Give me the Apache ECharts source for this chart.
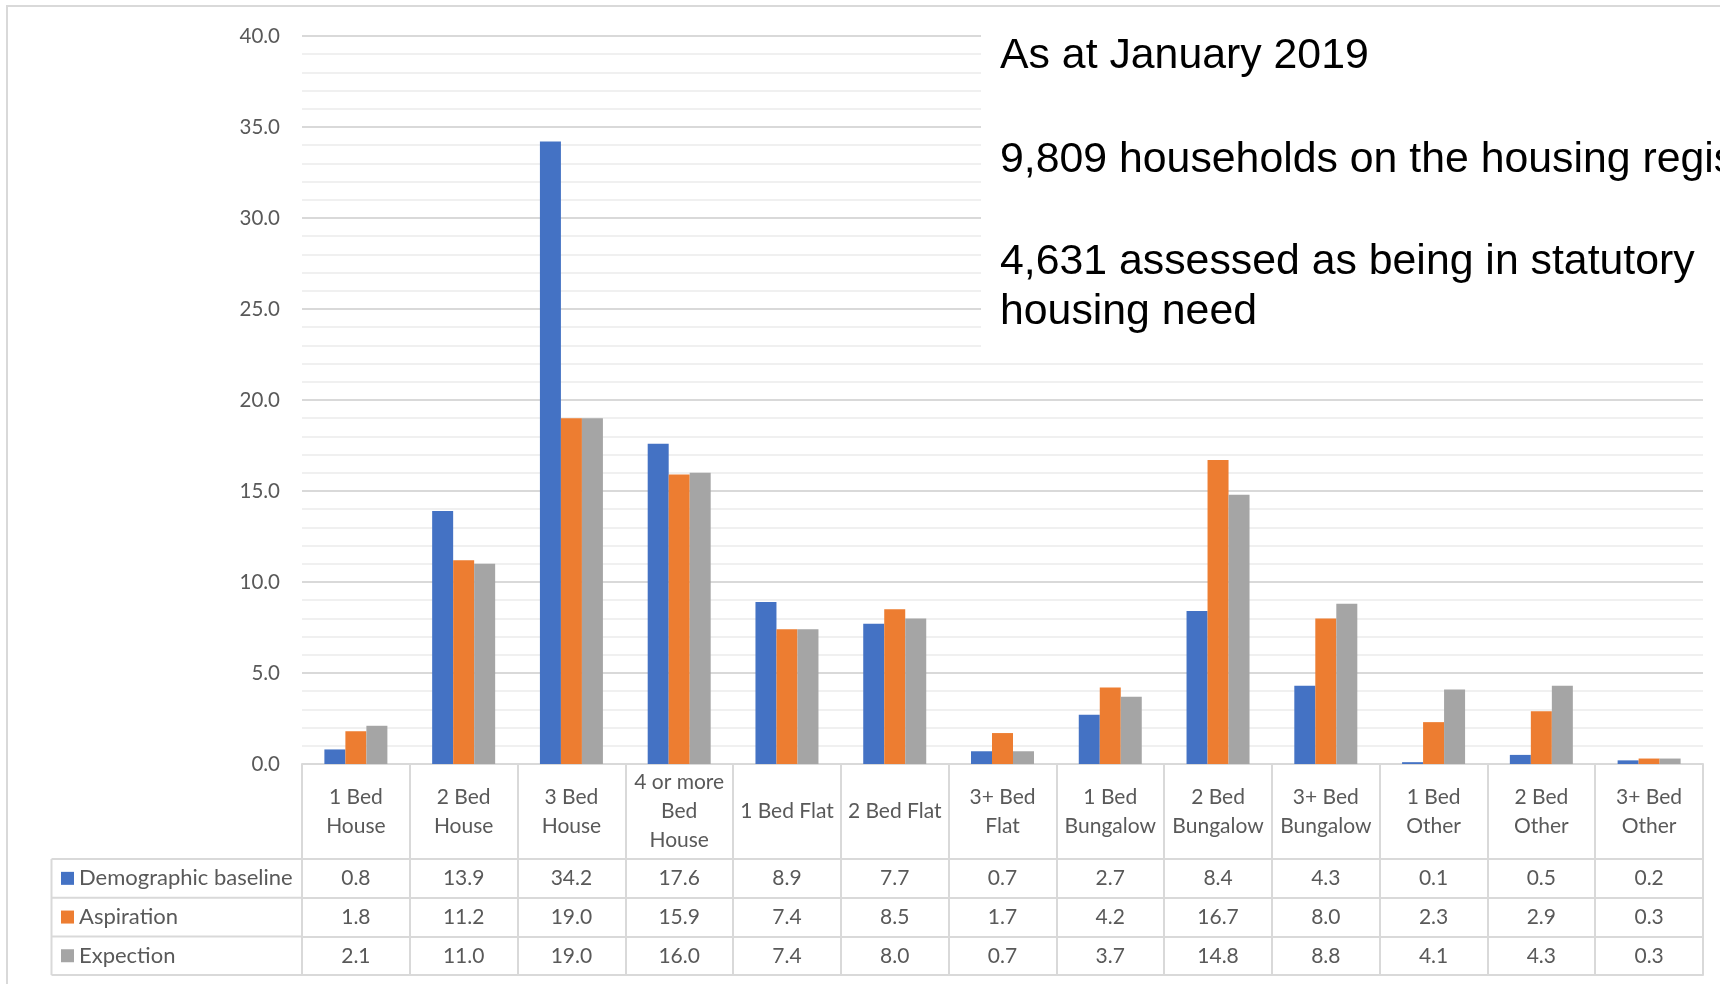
<!DOCTYPE html>
<html>
<head>
<meta charset="utf-8">
<script src="https://cdn.jsdelivr.net/npm/echarts@6/dist/echarts.min.js"></script>
<style>
html,body{margin:0;padding:0;background:#fff;}
#chart{width:1720px;height:984px;}
</style>
</head>
<body>
<div id="chart"></div>
<script>
var categories = ['1 Bed\nHouse','2 Bed\nHouse','3 Bed\nHouse','4 or more\nBed\nHouse','1 Bed Flat','2 Bed Flat','3+ Bed\nFlat','1 Bed\nBungalow','2 Bed\nBungalow','3+ Bed\nBungalow','1 Bed\nOther','2 Bed\nOther','3+ Bed\nOther'];
var seriesNames = ['Demographic baseline','Aspiration','Expection'];
var demographic = [0.8,13.9,34.2,17.6,8.9,7.7,0.7,2.7,8.4,4.3,0.1,0.5,0.2];
var aspiration  = [1.8,11.2,19.0,15.9,7.4,8.5,1.7,4.2,16.7,8.0,2.3,2.9,0.3];
var expection   = [2.1,11.0,19.0,16.0,7.4,8.0,0.7,3.7,14.8,8.8,4.1,4.3,0.3];
var yTicks = [0,5,10,15,20,25,30,35,40];
var notes = ['As at January 2019','9,809 households on the housing register','4,631 assessed as being in statutory','housing need'];

var colors = ['#4472C4','#ED7D31','#A5A5A5'];
var lineColor = '#d9d9d9';
var textColor = '#595959';
var font = 'Lato';

var gridLeft = 302, gridRight = 17, gridTop = 36, axisY = 764;
var catRowH = 95, rowH = 38.7;
var seriesData = [demographic, aspiration, expection];

function rowAxis(offset, h, values) {
  return {
    type: 'category', position: 'bottom', offset: offset, data: categories,
    axisLine: {show: true, lineStyle: {color: lineColor, width: 2}},
    axisTick: {show: h > 0, interval: 0, length: h, lineStyle: {color: lineColor, width: 2}},
    axisLabel: values ? {
      show: true, interval: 0, margin: h / 2, verticalAlign: 'middle',
      color: textColor, fontFamily: font, fontSize: 21,
      formatter: function (v, i) { return values[i].toFixed(1); }
    } : {show: false}
  };
}

var xAxes = [{
  type: 'category', position: 'bottom', data: categories,
  axisLine: {show: true, lineStyle: {color: lineColor, width: 2}},
  axisTick: {show: true, interval: 0, length: catRowH, lineStyle: {color: lineColor, width: 2}},
  axisLabel: {interval: 0, margin: catRowH / 2, verticalAlign: 'middle', color: textColor,
    fontFamily: font, fontSize: 21, lineHeight: 29, align: 'center'}
}];
for (var r = 0; r < 3; r++) {
  xAxes.push(rowAxis(catRowH + r * rowH, rowH, seriesData[r]));
}
xAxes.push(rowAxis(catRowH + 3 * rowH, 0, null));

var chart = echarts.init(document.getElementById('chart'), null, {renderer: 'canvas'});
var tableTop = axisY + catRowH;
var graphics = [
  {type: 'rect', shape: {x: 7, y: 6, width: 1800, height: 1100}, style: {fill: 'none', stroke: lineColor, lineWidth: 2}, z: 0, silent: true},
  {type: 'rect', shape: {x: 981, y: 12, width: 760, height: 338}, style: {fill: '#fff'}, z: 50, silent: true},
  {type: 'line', shape: {x1: 51.5, y1: tableTop, x2: 51.5, y2: tableTop + 3 * rowH}, style: {stroke: lineColor, lineWidth: 2}, z: 5},
];
for (var k = 0; k <= 3; k++) {
  graphics.push({type: 'line', shape: {x1: 51.5, y1: tableTop + k * rowH, x2: gridLeft, y2: tableTop + k * rowH}, style: {stroke: lineColor, lineWidth: 2}, z: 5});
}
var noteY = [56, 160, 262, 312];
for (var n = 0; n < notes.length; n++) {
  graphics.push({type: 'text', x: 1000, y: noteY[n], z: 60,
    style: {text: notes[n], fill: '#000', font: '42.8px "Liberation Sans", Arial, sans-serif', verticalAlign: 'middle', align: 'left'}});
}

chart.setOption({
  animation: false,
  backgroundColor: '#fff',
  color: colors,
  textStyle: {fontFamily: font},
  grid: {left: gridLeft, right: gridRight, top: gridTop, bottom: 984 - axisY, containLabel: false},
  legend: {
    orient: 'vertical', left: 61, top: tableTop + rowH / 2 - 11, padding: 0,
    itemWidth: 13, itemHeight: 13, itemGap: rowH - 22, icon: 'rect',
    textStyle: {color: textColor, fontFamily: font, fontSize: 22, lineHeight: 22},
    selectedMode: false, data: seriesNames
  },
  xAxis: xAxes,
  yAxis: {
    type: 'value', min: 0, max: 40, interval: 5,
    axisLine: {show: false}, axisTick: {show: false},
    axisLabel: {color: textColor, fontFamily: font, fontSize: 20.5, margin: 22,
      formatter: function (v) { return yTicks.indexOf(v) >= 0 ? v.toFixed(1) : ''; }},
    splitLine: {show: true, lineStyle: {color: lineColor, width: 2}},
    minorTick: {show: false, splitNumber: 5},
    minorSplitLine: {show: true, lineStyle: {color: '#ececec', width: 1.5}}
  },
  graphic: graphics,
  series: seriesNames.map(function (name, i) {
    return {name: name, type: 'bar', data: seriesData[i], barWidth: 21, barGap: '0%', xAxisIndex: 0, yAxisIndex: 0};
  })
});
</script>
</body>
</html>
